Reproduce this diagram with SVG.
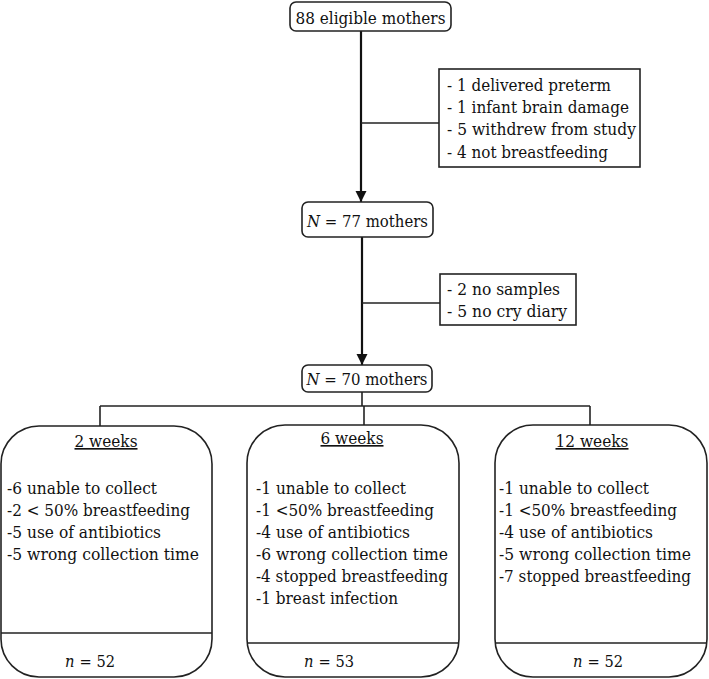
<svg xmlns="http://www.w3.org/2000/svg" width="709" height="679" viewBox="0 0 709 679">
<style>
  text { font-family: "DejaVu Serif", serif; font-size: 16.5px; fill: #111; }
  .box { fill: #fff; stroke: #222; stroke-width: 1.6; }
  .ln { stroke: #222; stroke-width: 1.6; fill: none; }
  .arr { stroke: #111; stroke-width: 2.2; fill: none; marker-end: url(#ah); }
  .mid { text-anchor: middle; }
  .u { text-decoration: underline; }
  .it { font-style: italic; }
</style>
<defs>
  <marker id="ah" viewBox="0 0 10 10" refX="10" refY="5" markerWidth="5" markerHeight="5.5" orient="auto" markerUnits="strokeWidth">
    <path d="M0,0 L10,5 L0,10 z" fill="#111"/>
  </marker>
</defs>
<rect width="709" height="679" fill="#fff"/>

<g id="connectors">
  <line class="arr" x1="361" y1="31" x2="361" y2="202"/>
  <line class="ln" x1="361" y1="123" x2="439" y2="123"/>
  <line class="arr" x1="362" y1="237" x2="362" y2="365"/>
  <line class="ln" x1="362" y1="303" x2="440" y2="303"/>
  <line class="ln" x1="362" y1="392" x2="362" y2="406"/>
  <line class="ln" x1="100" y1="406" x2="590" y2="406"/>
  <line class="ln" x1="100" y1="406" x2="100" y2="426"/>
  <line class="ln" x1="364" y1="406" x2="364" y2="425"/>
  <line class="ln" x1="590" y1="406" x2="590" y2="425"/>
</g>

<g id="eligible">
  <rect class="box" x="290" y="2" width="161" height="29" rx="6"/>
  <text class="mid" x="370.5" y="24" textLength="150" lengthAdjust="spacingAndGlyphs">88 eligible mothers</text>
</g>

<g id="excl1">
  <rect class="box" x="439" y="69" width="201" height="98"/>
  <text x="447" y="91" textLength="164" lengthAdjust="spacingAndGlyphs">- 1 delivered preterm</text>
  <text x="447" y="113" textLength="182" lengthAdjust="spacingAndGlyphs">- 1 infant brain damage</text>
  <text x="447" y="135" textLength="189" lengthAdjust="spacingAndGlyphs">- 5 withdrew from study</text>
  <text x="447" y="158" textLength="161" lengthAdjust="spacingAndGlyphs">- 4 not breastfeeding</text>
</g>

<g id="n77">
  <rect class="box" x="302" y="202" width="131" height="35" rx="6"/>
  <text class="mid" x="367.5" y="227" textLength="121" lengthAdjust="spacingAndGlyphs"><tspan class="it">N</tspan> = 77 mothers</text>
</g>

<g id="excl2">
  <rect class="box" x="440" y="274" width="136" height="51"/>
  <text x="447" y="295" textLength="113" lengthAdjust="spacingAndGlyphs">- 2 no samples</text>
  <text x="447" y="317" textLength="120" lengthAdjust="spacingAndGlyphs">- 5 no cry diary</text>
</g>

<g id="n70">
  <rect class="box" x="302" y="365" width="130" height="27" rx="6"/>
  <text class="mid" x="367" y="385" textLength="121" lengthAdjust="spacingAndGlyphs"><tspan class="it">N</tspan> = 70 mothers</text>
</g>

<g id="week2">
  <rect class="box" x="1" y="426" width="211" height="251" rx="38"/>
  <line class="ln" x1="1" y1="633" x2="212" y2="633"/>
  <text class="mid u" x="106" y="447" textLength="63" lengthAdjust="spacingAndGlyphs">2 weeks</text>
  <text x="7" y="494" textLength="150" lengthAdjust="spacingAndGlyphs">-6 unable to collect</text>
  <text x="7" y="516" textLength="183" lengthAdjust="spacingAndGlyphs">-2 &lt; 50% breastfeeding</text>
  <text x="7" y="538" textLength="154" lengthAdjust="spacingAndGlyphs">-5 use of antibiotics</text>
  <text x="7" y="560" textLength="192" lengthAdjust="spacingAndGlyphs">-5 wrong collection time</text>
  <text class="it" x="65" y="667" textLength="9.5" lengthAdjust="spacingAndGlyphs">n</text>
  <text x="79.5" y="667" textLength="35.5" lengthAdjust="spacingAndGlyphs">= 52</text>
</g>

<g id="week6">
  <rect class="box" x="247" y="425" width="212" height="252" rx="38"/>
  <line class="ln" x1="247" y1="643" x2="459" y2="643"/>
  <text class="mid u" x="352" y="444" textLength="63" lengthAdjust="spacingAndGlyphs">6 weeks</text>
  <text x="256" y="494" textLength="150" lengthAdjust="spacingAndGlyphs">-1 unable to collect</text>
  <text x="256" y="516" textLength="178" lengthAdjust="spacingAndGlyphs">-1 &lt;50% breastfeeding</text>
  <text x="256" y="538" textLength="154" lengthAdjust="spacingAndGlyphs">-4 use of antibiotics</text>
  <text x="256" y="560" textLength="192" lengthAdjust="spacingAndGlyphs">-6 wrong collection time</text>
  <text x="256" y="582" textLength="192" lengthAdjust="spacingAndGlyphs">-4 stopped breastfeeding</text>
  <text x="256" y="604" textLength="142" lengthAdjust="spacingAndGlyphs">-1 breast infection</text>
  <text class="it" x="304" y="667" textLength="9.5" lengthAdjust="spacingAndGlyphs">n</text>
  <text x="318.5" y="667" textLength="35.5" lengthAdjust="spacingAndGlyphs">= 53</text>
</g>

<g id="week12">
  <rect class="box" x="495" y="425" width="212" height="252" rx="38"/>
  <line class="ln" x1="495" y1="643" x2="707" y2="643"/>
  <text class="mid u" x="592" y="447" textLength="73" lengthAdjust="spacingAndGlyphs">12 weeks</text>
  <text x="499" y="494" textLength="150" lengthAdjust="spacingAndGlyphs">-1 unable to collect</text>
  <text x="499" y="516" textLength="178" lengthAdjust="spacingAndGlyphs">-1 &lt;50% breastfeeding</text>
  <text x="499" y="538" textLength="154" lengthAdjust="spacingAndGlyphs">-4 use of antibiotics</text>
  <text x="499" y="560" textLength="192" lengthAdjust="spacingAndGlyphs">-5 wrong collection time</text>
  <text x="499" y="582" textLength="192" lengthAdjust="spacingAndGlyphs">-7 stopped breastfeeding</text>
  <text class="it" x="573" y="667" textLength="9.5" lengthAdjust="spacingAndGlyphs">n</text>
  <text x="587.5" y="667" textLength="35.5" lengthAdjust="spacingAndGlyphs">= 52</text>
</g>
</svg>
